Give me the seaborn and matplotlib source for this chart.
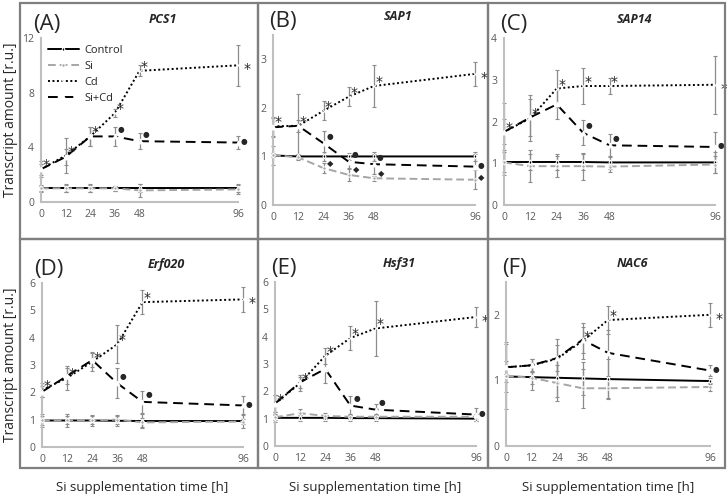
import matplotlib.pyplot as plt
import numpy as np
import pandas as pd
import seaborn as sns
from matplotlib.patches import Rectangle
from matplotlib.ticker import MultipleLocator

times = [0, 12, 24, 36, 48, 96]
treatments = ["Control", "Si", "Cd", "Si+Cd"]
genes = ["PCS1", "SAP1", "SAP14", "Erf020", "Hsf31", "NAC6"]
tags = ["(A)", "(B)", "(C)", "(D)", "(E)", "(F)"]

# PCS1
pcs1_control = [1.0, 1.0, 1.0, 1.0, 1.0, 1.0]
pcs1_control_err = [0.25, 0.3, 0.3, 0.2, 0.3, 0.3]
pcs1_si = [1.0, 1.0, 1.0, 1.0, 0.85, 0.92]
pcs1_si_err = [0.2, 0.25, 0.25, 0.2, 0.45, 0.3]
pcs1_cd = [2.4, 3.4, 4.8, 6.5, 9.6, 10.0]
pcs1_cd_err = [0.6, 1.3, 0.7, 0.3, 0.4, 1.5]
pcs1_sicd = [2.4, 3.3, 4.8, 4.8, 4.45, 4.35]
pcs1_sicd_err = [0.4, 0.6, 0.7, 0.7, 0.6, 0.5]

# SAP1
sap1_control = [1.02, 1.0, 1.0, 1.0, 1.0, 1.0]
sap1_control_err = [0.2, 0.05, 0.1, 0.08, 0.1, 0.1]
sap1_si = [1.03, 0.98, 0.76, 0.62, 0.55, 0.52]
sap1_si_err = [0.05, 0.05, 0.1, 0.12, 0.05, 0.2]
sap1_cd = [1.62, 1.63, 1.94, 2.23, 2.45, 2.7]
sap1_cd_err = [0.2, 0.12, 0.2, 0.2, 0.43, 0.25]
sap1_sicd = [1.6, 1.63, 1.27, 0.89, 0.84, 0.79]
sap1_sicd_err = [0.2, 0.65, 0.25, 0.12, 0.2, 0.25]

# SAP14
sap14_control = [1.03, 1.03, 1.03, 1.03, 1.02, 1.02]
sap14_control_err = [0.25, 0.2, 0.2, 0.2, 0.15, 0.25]
sap14_si = [1.02, 0.93, 0.93, 0.93, 0.92, 0.97]
sap14_si_err = [0.3, 0.38, 0.25, 0.32, 0.12, 0.2]
sap14_cd = [1.75, 2.08, 2.79, 2.85, 2.85, 2.88]
sap14_cd_err = [0.7, 0.55, 0.45, 0.42, 0.18, 0.7]
sap14_sicd = [1.75, 2.1, 2.41, 1.73, 1.43, 1.39]
sap14_sicd_err = [0.3, 0.45, 0.35, 0.3, 0.28, 0.35]

# Erf020
erf020_control = [0.97, 0.97, 0.97, 0.96, 0.95, 0.95]
erf020_control_err = [0.25, 0.22, 0.2, 0.2, 0.25, 0.25]
erf020_si = [0.97, 0.98, 0.98, 1.0, 0.9, 0.93]
erf020_si_err = [0.15, 0.15, 0.15, 0.15, 0.15, 0.1]
erf020_cd = [2.08, 2.53, 3.12, 3.76, 5.3, 5.4]
erf020_cd_err = [0.25, 0.45, 0.35, 0.7, 0.45, 0.45]
erf020_sicd = [2.02, 2.6, 3.18, 2.33, 1.65, 1.52]
erf020_sicd_err = [0.2, 0.3, 0.25, 0.55, 0.4, 0.35]

# Hsf31
hsf31_control = [1.03, 1.03, 1.03, 1.02, 1.02, 1.0]
hsf31_control_err = [0.15, 0.1, 0.1, 0.1, 0.1, 0.1]
hsf31_si = [1.05, 1.2, 1.1, 1.07, 1.07, 1.07]
hsf31_si_err = [0.1, 0.15, 0.1, 0.1, 0.1, 0.1]
hsf31_cd = [1.55, 2.3, 3.3, 3.95, 4.3, 4.72]
hsf31_cd_err = [0.3, 0.3, 0.3, 0.43, 1.0, 0.35]
hsf31_sicd = [1.55, 2.33, 2.82, 1.48, 1.33, 1.15]
hsf31_sicd_err = [0.3, 0.2, 0.5, 0.35, 0.2, 0.25]

# NAC6
nac6_control = [1.06, 1.05, 1.04, 1.03, 1.02, 0.99]
nac6_control_err = [0.5, 0.2, 0.3, 0.25, 0.3, 0.05]
nac6_si = [1.07, 1.04, 0.96, 0.88, 0.88, 0.9]
nac6_si_err = [0.1, 0.1, 0.27, 0.3, 0.15, 0.06]
nac6_cd = [1.2, 1.23, 1.33, 1.6, 1.92, 2.0]
nac6_cd_err = [0.38, 0.1, 0.3, 0.28, 0.22, 0.18]
nac6_sicd = [1.2, 1.23, 1.34, 1.62, 1.42, 1.15]
nac6_sicd_err = [0.1, 0.1, 0.2, 0.2, 0.35, 0.08]

# significance marks (time points)
pcs1_star, pcs1_dot = [0, 12, 24, 36, 48, 96], [36, 48, 96]
sap1_star, sap1_dot = [0, 12, 24, 36, 48, 96], [24, 36, 48, 96]
sap1_diamond = [24, 36, 48, 96]
sap14_star, sap14_dot = [0, 12, 24, 36, 48, 96], [36, 48, 96]
erf020_star, erf020_dot = [0, 12, 24, 36, 48, 96], [36, 48, 96]
hsf31_star, hsf31_dot = [0, 12, 24, 36, 48, 96], [36, 48, 96]
nac6_star, nac6_dot = [36, 48, 96], [96]

means = [
    [pcs1_control, pcs1_si, pcs1_cd, pcs1_sicd],
    [sap1_control, sap1_si, sap1_cd, sap1_sicd],
    [sap14_control, sap14_si, sap14_cd, sap14_sicd],
    [erf020_control, erf020_si, erf020_cd, erf020_sicd],
    [hsf31_control, hsf31_si, hsf31_cd, hsf31_sicd],
    [nac6_control, nac6_si, nac6_cd, nac6_sicd],
]
errs = [
    [pcs1_control_err, pcs1_si_err, pcs1_cd_err, pcs1_sicd_err],
    [sap1_control_err, sap1_si_err, sap1_cd_err, sap1_sicd_err],
    [sap14_control_err, sap14_si_err, sap14_cd_err, sap14_sicd_err],
    [erf020_control_err, erf020_si_err, erf020_cd_err, erf020_sicd_err],
    [hsf31_control_err, hsf31_si_err, hsf31_cd_err, hsf31_sicd_err],
    [nac6_control_err, nac6_si_err, nac6_cd_err, nac6_sicd_err],
]
stars = [pcs1_star, sap1_star, sap14_star, erf020_star, hsf31_star, nac6_star]
dots = [pcs1_dot, sap1_dot, sap14_dot, erf020_dot, hsf31_dot, nac6_dot]
diamonds = [[], sap1_diamond, [], [], [], []]

sns.set_style("white")
plt.rcParams["font.family"] = ["Open Sans", "DejaVu Sans"]

W, H = 727, 499
fig = plt.figure(figsize=(W / 100, H / 100), dpi=100)

# axes rectangles in pixels: left, right, top, bottom
ax_px = [(41, 238, 38, 202), (273, 475, 35, 205), (504, 715, 38, 205),
         (42, 243, 283, 447), (275, 476, 282, 446), (506, 710, 282, 446)]
ylims = [(0, 12), (0, 3.5), (0, 4), (0, 6), (0, 6), (0, 2.5)]
ymajor = [4, 1, 1, 1, 1, 1]
yminor = [2, 0.5, 1, 1, 1, 0.5]

# panel boxes
box_x = [20, 258, 488, 725]
box_y = [3, 239, 468]
for r in range(2):
    for c in range(3):
        x0, x1 = box_x[c], box_x[c + 1]
        y0, y1 = box_y[r], box_y[r + 1]
        fig.patches.append(Rectangle((x0 / W, 1 - y1 / H), (x1 - x0) / W, (y1 - y0) / H,
                                     transform=fig.transFigure, fill=False,
                                     edgecolor="#7f7f7f", lw=1.6))

styles = {
    "Control": dict(color="black", linestyle="-", marker="d", markersize=2.5, mfc="black", lw=1.4),
    "Si": dict(color="#a6a6a6", linestyle=(0, (4, 2)), marker="o", markersize=2.5, mfc="#a6a6a6", lw=1.4),
    "Cd": dict(color="black", linestyle=(0, (1, 1.3)), marker="x", markersize=3.5, mfc="black", lw=1.4),
    "Si+Cd": dict(color="black", linestyle=(0, (5, 3)), marker="^", markersize=3.5, mfc="white", lw=1.4),
}

gray = "#bfbfbf"
tick_col = "#595959"

for i, gene in enumerate(genes):
    l, r, t, b = ax_px[i]
    ax = fig.add_axes([l / W, 1 - b / H, (r - l) / W, (b - t) / H])
    for j, tr in enumerate(treatments):
        df = pd.DataFrame({"time": times, "value": means[i][j]})
        ax.errorbar(times, means[i][j], yerr=errs[i][j], fmt="none", ecolor="#8c8c8c",
                    elinewidth=0.9, capsize=1.5, capthick=0.8, clip_on=False, zorder=2)
        sns.lineplot(data=df, x="time", y="value", ax=ax, label=tr, clip_on=False,
                     zorder=3, **styles[tr])
    cd = dict(zip(times, means[i][2]))
    sicd = dict(zip(times, means[i][3]))
    si = dict(zip(times, means[i][1]))
    for tp in stars[i]:
        off = (9, -4) if tp == 96 else (5, 4)
        ax.annotate("*", (tp, cd[tp]), xytext=off, textcoords="offset pixels",
                    fontsize=10, ha="center", va="center", family="DejaVu Sans")
    for tp in dots[i]:
        off = (6, 1) if tp == 96 else (6, 7)
        ax.annotate("●", (tp, sicd[tp]), xytext=off, textcoords="offset pixels",
                    fontsize=5.5, ha="center", va="center", family="DejaVu Sans")
    for tp in diamonds[i]:
        off = (6, 2) if tp == 96 else (7, 5)
        ax.annotate("◆", (tp, si[tp]), xytext=off, textcoords="offset pixels",
                    fontsize=6, ha="center", va="center", family="DejaVu Sans")

    ax.set_xlim(0, 96)
    ax.set_ylim(*ylims[i])
    ax.set_xticks(times)
    ax.yaxis.set_major_locator(MultipleLocator(ymajor[i]))
    ax.yaxis.set_minor_locator(MultipleLocator(yminor[i]))
    ax.tick_params(axis="both", which="both", direction="out", color=gray,
                   labelcolor=tick_col, labelsize=7.5, length=3, width=1, pad=2)
    ax.tick_params(axis="y", which="minor", length=2)
    sns.despine(ax=ax)
    for s in ["left", "bottom"]:
        ax.spines[s].set_color(gray)
        ax.spines[s].set_linewidth(1.5)
    ax.set_ylabel("")
    ax.set_xlabel("")
    if i in (0, 3):
        ax.set_ylabel("Transcript amount [r.u.]", fontsize=10)
        ax.yaxis.set_label_coords(-(l - 18) / (r - l), 0.5)
    if i >= 3:
        ax.set_xlabel("Si supplementation time [h]", fontsize=9.5)
        ax.xaxis.set_label_coords(0.5, -(481 - b) / (b - t))
    ax.text(-0.04 if i % 3 == 0 else -0.02, 1.02, tags[i], transform=ax.transAxes,
            fontsize=16, ha="left", va="bottom")
    ax.text(0.62, 1.11, gene, transform=ax.transAxes, fontsize=9,
            fontweight="bold", fontstyle="italic", ha="center", va="center")
    if i == 0:
        ax.legend(loc="upper left", bbox_to_anchor=(0.0, 1.0), frameon=False,
                  fontsize=8, handlelength=2.8, handletextpad=0.5,
                  labelspacing=0.45, borderaxespad=0.2)
    else:
        ax.get_legend().remove()

fig.savefig("out.png", dpi=100)
